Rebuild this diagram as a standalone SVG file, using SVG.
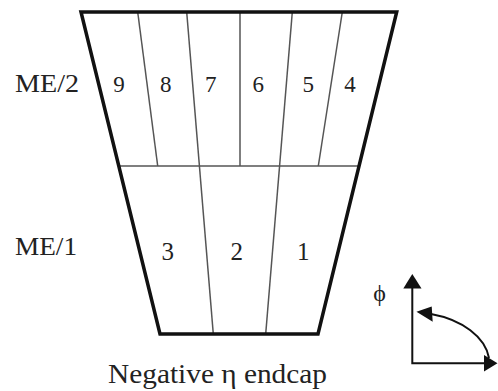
<svg xmlns="http://www.w3.org/2000/svg" width="498" height="391" viewBox="0 0 498 391">
<style>
.thick{fill:none;stroke:#111;stroke-width:3.5;stroke-linejoin:miter}
.thin{fill:none;stroke:#555;stroke-width:1.5}
.lbl{font-family:"Liberation Serif","Times New Roman",serif;fill:#222}
.num{font-family:"Liberation Serif","Times New Roman",serif;fill:#222;text-anchor:middle}
.ax{fill:none;stroke:#111;stroke-width:2}
</style>
<rect width="498" height="391" fill="#fff"/>
<g id="chamber">
<g id="dividers" class="thin">
<line x1="120" y1="166" x2="358" y2="166"/>
<line x1="137.7" y1="12" x2="157.7" y2="166"/>
<line x1="186.7" y1="12" x2="213.3" y2="334"/>
<line x1="240" y1="12" x2="240" y2="166"/>
<line x1="292.3" y1="12" x2="265.7" y2="334"/>
<line x1="342.3" y1="12" x2="318.3" y2="166"/>
</g>
<path id="outline" class="thick" d="M81 12 L396.7 12 L318 334 L160 334 Z"/>
</g>
<g id="ME2">
<text class="lbl" x="15" y="92" font-size="25" textLength="64" lengthAdjust="spacingAndGlyphs">ME/2</text>
<text class="num" x="119" y="91.5" font-size="23">9</text>
<text class="num" x="165.7" y="91.5" font-size="23">8</text>
<text class="num" x="210.7" y="91.5" font-size="23">7</text>
<text class="num" x="258.3" y="91.5" font-size="23">6</text>
<text class="num" x="308.3" y="91.5" font-size="23">5</text>
<text class="num" x="350" y="91.5" font-size="23">4</text>
</g>
<g id="ME1">
<text class="lbl" x="15" y="255" font-size="25" textLength="62" lengthAdjust="spacingAndGlyphs">ME/1</text>
<text class="num" x="167.7" y="260" font-size="25">3</text>
<text class="num" x="236.7" y="260" font-size="25">2</text>
<text class="num" x="303.3" y="259.5" font-size="25">1</text>
</g>
<g id="caption">
<text class="lbl" x="108" y="383" font-size="27" textLength="219" lengthAdjust="spacingAndGlyphs">Negative η endcap</text>
</g>
<g id="connectors">
<polyline class="ax" points="412.3,287 412.3,363.3 486,363.3"/>
<polygon points="412.3,274 403.3,288.5 421.5,288.5" fill="#111"/>
<polygon points="497.5,363.3 484,355 484,371.5" fill="#111"/>
<path class="ax" d="M431 314 A 80 52 0 0 1 489 358"/>
<polygon points="416.5,311.7 431.7,306.5 432.7,321.7" fill="#111"/>
<text class="lbl" x="379.5" y="300.5" font-size="24" text-anchor="middle">ϕ</text>
</g>
</svg>
